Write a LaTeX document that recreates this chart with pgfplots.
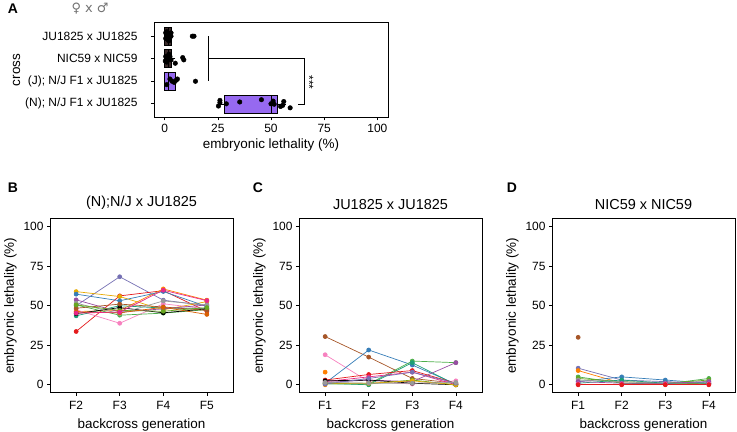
\documentclass[border=0pt]{standalone}
\usepackage{pgfplots}
\pgfplotsset{compat=1.18}
\usepgfplotslibrary{statistics}
\usepackage{fontspec}
\setmainfont{Liberation Sans}
\newfontfamily\symfont{DejaVu Sans}
\definecolor{cblue}{HTML}{377EB8}
\definecolor{cred}{HTML}{E41A1C}
\definecolor{cgreen}{HTML}{4DAF4A}
\definecolor{cpurple}{HTML}{984EA3}
\definecolor{corange}{HTML}{FF7F00}
\definecolor{cgold}{HTML}{E6AB02}
\definecolor{cbrown}{HTML}{A65628}
\definecolor{cpink}{HTML}{F781BF}
\definecolor{cgrey}{HTML}{999999}
\definecolor{cteal}{HTML}{1B9E77}
\definecolor{cdorange}{HTML}{D95F02}
\definecolor{clav}{HTML}{7570B3}
\definecolor{cmag}{HTML}{E7298A}
\definecolor{colive}{HTML}{66A61E}
\definecolor{boxdark}{HTML}{3A2A2A}
\definecolor{boxpurple}{RGB}{150,105,240}
\pgfplotsset{
  base/.style={
    scale only axis,
    axis line style={line width=0.8bp},
    tick align=outside,
    major tick length=3bp,
    xtick pos=bottom, ytick pos=left,
    tick style={line width=0.6bp, black},
    ticklabel style={font=\fontsize{12}{13}\selectfont},
    label style={font=\fontsize{13.5}{15}\selectfont},
    title style={font=\fontsize{14.5}{16}\selectfont},
    /pgf/number format/assume math mode=true,
  },
  lineplot/.style={
    base, width=183bp, height=174bp,
    ymin=-5, ymax=105, xmin=0.4, xmax=4.6,
    xtick={1,2,3,4}, ytick={0,25,50,75,100},
    ylabel={embryonic lethality (\%)},
    xlabel={backcross generation},
    xticklabel style={yshift=-2bp},
    xlabel style={yshift=-2bp},
    every axis plot/.append style={mark=*, mark size=2bp, line width=0.7bp},
  },
}
\begin{document}
\begin{tikzpicture}
\path[use as bounding box] (0,0) rectangle (737bp,432bp);
% ---------- Panel A ----------
\begin{axis}[base, at={(154bp,314.7bp)}, anchor=south west,
  width=234bp, height=94.6bp,
  xmin=-5, xmax=105, ymin=0.4, ymax=4.6,
  xtick={0,25,50,75,100},
  ytick={1,2,3,4},
  yticklabels={(N); N/J F1 x JU1825,(J); N/J F1 x JU1825,NIC59 x NIC59,JU1825 x JU1825},
  yticklabel style={xshift=-10bp},
  ylabel style={xshift=0bp, yshift=-2bp},
  xlabel={embryonic lethality (\%)}, ylabel={cross},
  boxplot/draw direction=x,
  clip=false]
\addplot[draw=black, fill=boxdark, line width=0.5bp,
  boxplot prepared={draw position=4, lower whisker=0, lower quartile=0, median=1.5, upper quartile=3, upper whisker=3.5, box extend=0.8, whisker extend=0},
  ] coordinates {};
\addplot[draw=black, fill=boxdark, line width=0.5bp,
  boxplot prepared={draw position=3, lower whisker=0, lower quartile=0, median=1.5, upper quartile=3, upper whisker=5, box extend=0.8, whisker extend=0},
  ] coordinates {};
\addplot[draw=black, fill=boxpurple, line width=0.5bp,
  boxplot prepared={draw position=2, lower whisker=0, lower quartile=0, median=1.5, upper quartile=5, upper whisker=6, box extend=0.8, whisker extend=0},
  ] coordinates {};
\addplot[draw=black, fill=boxpurple, line width=0.5bp,
  boxplot prepared={draw position=1, lower whisker=25.5, lower quartile=28, median=50, upper quartile=52.8, upper whisker=57, box extend=0.8, whisker extend=0},
  ] coordinates {};
\addplot[only marks, mark=*, mark size=2.3bp, black] coordinates {
 (26,1.15) (26,1.05) (25.3,0.9) (29,1.0) (35.3,1.08) (45.5,1.18) (51,1.12) (51.5,0.98) (56,1.1) (55.5,0.93) (54.5,0.88) (59,0.82) (50,1.0)
 (2.5,2.1) (1,1.85) (4.5,1.95) (5.5,2.05) (6,2.1) (3.5,2.0) (14.5,2.0)
 (0.5,3.1) (1,2.85) (1.5,3.05) (2,3.2) (3,2.95) (5,2.8) (8.5,3.05) (9,2.95) (0.3,2.9) (2.5,3.1)
 (0.5,4.15) (1,4.05) (1.5,3.85) (2,4.1) (2.5,3.95) (3,4.0) (0.5,3.9) (1,4.2) (13,4.0) (13.8,4.0) (2,3.8) (3,4.15)
};
\addplot[black, line width=0.5bp] coordinates {(20.5,4) (20.5,2)};
\addplot[black, line width=0.5bp] coordinates {(20.5,3) (65.4,3) (65.4,1) (62.6,1)};
\node[rotate=-90, font=\fontsize{12}{12}\selectfont] at (axis cs:68,1.95) {***};
\end{axis}
\node[font=\fontsize{14}{14}\selectfont\bfseries] at (13bp,423bp) {A};
\node[font=\fontsize{13}{13}\symfont, text=black!55] at (90bp,423.5bp) {♀ x ♂};
% ---------- Panel B ----------
\begin{axis}[lineplot, at={(50bp,39.3bp)}, anchor=south west,
  xticklabels={F2,F3,F4,F5}, title={(N);N/J x JU1825}]
\addplot[clav] coordinates {(1,50) (2,68.3) (3,53.5) (4,50)};
\addplot[cred] coordinates {(1,33.7) (2,56.2) (3,59.5) (4,46.5)};
\addplot[corange] coordinates {(1,46.3) (2,47) (3,60.6) (4,53.5)};
\addplot[cgold] coordinates {(1,58.9) (2,55.8) (3,47.4) (4,52.6)};
\addplot[cblue] coordinates {(1,57.3) (2,53.1) (3,59) (4,49.5)};
\addplot[cpink] coordinates {(1,47.4) (2,38.9) (3,51.2) (4,48)};
\addplot[cgreen] coordinates {(1,50.5) (2,44) (3,45.3) (4,47.5)};
\addplot[cteal] coordinates {(1,43.6) (2,50) (3,48.5) (4,48.3)};
\addplot[black] coordinates {(1,45) (2,48.8) (3,45.5) (4,48)};
\addplot[cpurple] coordinates {(1,53.7) (2,46) (3,48) (4,50.5)};
\addplot[cbrown] coordinates {(1,48.4) (2,51) (3,49.2) (4,47)};
\addplot[cgrey] coordinates {(1,51.6) (2,45) (3,53) (4,50.5)};
\addplot[colive] coordinates {(1,50.5) (2,47) (3,46.5) (4,48.8)};
\addplot[cdorange] coordinates {(1,46) (2,45.5) (3,49) (4,44.5)};
\addplot[cmag] coordinates {(1,45.3) (2,46) (3,59.8) (4,53.2)};
\end{axis}
\node[font=\fontsize{14}{14}\selectfont\bfseries] at (13bp,244bp) {B};
% ---------- Panel C ----------
\begin{axis}[lineplot, at={(299bp,39.3bp)}, anchor=south west,
  xticklabels={F1,F2,F3,F4}, title={JU1825 x JU1825}]
\addplot[cbrown] coordinates {(1,30.5) (2,17.5) (3,4) (4,1)};
\addplot[cpink] coordinates {(1,19) (2,2) (3,0.5) (4,2.5)};
\addplot[corange, only marks] coordinates {(1,8) (1,0)};
\addplot[cblue] coordinates {(1,1) (2,22) (3,12.5) (4,0.5)};
\addplot[cgreen] coordinates {(1,0.5) (2,0.5) (3,15) (4,14)};
\addplot[cteal] coordinates {(1,1) (2,0) (3,14) (4,0)};
\addplot[cpurple] coordinates {(1,1.5) (2,3) (3,2) (4,14)};
\addplot[cred] coordinates {(1,3) (2,6.5) (3,9) (4,1)};
\addplot[cmag] coordinates {(1,2) (2,5) (3,8) (4,0)};
\addplot[black] coordinates {(1,2.5) (2,3) (3,1) (4,0)};
\addplot[colive] coordinates {(1,1) (2,0.5) (3,3) (4,0)};
\addplot[cgold] coordinates {(1,1) (2,1) (3,2.5) (4,0)};
\addplot[clav] coordinates {(1,0.5) (2,4) (3,8) (4,1)};
\addplot[cgrey] coordinates {(1,1.5) (2,1) (3,1) (4,1.5)};
\end{axis}
\node[font=\fontsize{14}{14}\selectfont\bfseries] at (258bp,244bp) {C};
% ---------- Panel D ----------
\begin{axis}[lineplot, at={(552bp,39.3bp)}, anchor=south west,
  xticklabels={F1,F2,F3,F4}, title={NIC59 x NIC59}]
\addplot[cbrown, only marks] coordinates {(1,30)};
\addplot[clav] coordinates {(1,10.5) (2,3) (3,2) (4,1)};
\addplot[corange] coordinates {(1,9) (2,1) (3,0.5) (4,1)};
\addplot[cblue] coordinates {(1,2) (2,5) (3,3) (4,1)};
\addplot[cgreen] coordinates {(1,5) (2,1) (3,0.5) (4,4)};
\addplot[colive] coordinates {(1,4) (2,2) (3,1) (4,3)};
\addplot[cgrey] coordinates {(1,3) (2,2) (3,1) (4,2)};
\addplot[cteal] coordinates {(1,1) (2,3) (3,1) (4,1)};
\addplot[cpurple] coordinates {(1,2) (2,1) (3,1) (4,2)};
\addplot[cpink] coordinates {(1,0.5) (2,0.5) (3,0.5) (4,0.5)};
\addplot[cmag] coordinates {(1,0.3) (2,0.3) (3,0.3) (4,0.3)};
\addplot[cred] coordinates {(1,0) (2,0) (3,0) (4,0)};
\end{axis}
\node[font=\fontsize{14}{14}\selectfont\bfseries] at (512bp,244bp) {D};
\end{tikzpicture}
\end{document}
